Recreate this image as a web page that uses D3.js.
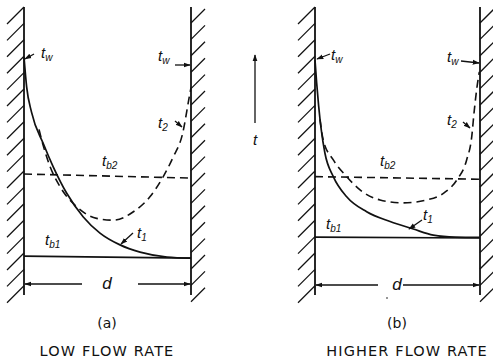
<!DOCTYPE html>
<html><head><meta charset="utf-8">
<script src="https://cdn.jsdelivr.net/npm/d3@7"></script>
<style>html,body{margin:0;padding:0;background:#fff;}svg{display:block;}</style>
</head><body>
<script>
// Data: x = fraction of channel width d (0..1), t = temperature (arbitrary units, 0..100)
const panelIds = ["a", "b"];
const panelCaptions = ["(a)", "(b)"];
const panelTitles = ["LOW FLOW RATE", "HIGHER FLOW RATE"];
// Solid profile t1
const t1A = [[0,82.6],[0.016,72.2],[0.045,63.5],[0.116,52.5],[0.175,44.5],[0.255,35.4],[0.355,27.1],[0.455,21.5],[0.575,17.4],[0.695,14.9],[0.856,13.2],[1,12.8]];
const t1B = [[0,81.6],[0.010,73.7],[0.022,65.7],[0.038,57.3],[0.060,49.3],[0.111,41.1],[0.192,34.1],[0.313,28.9],[0.455,25.5],[0.596,22.9],[0.717,20.8],[0.85,20.1],[1,20.0]];
// Dashed profile t2
const t2A = [[0.09,57.5],[0.116,51.7],[0.156,44.6],[0.216,37.6],[0.315,30.7],[0.435,26.6],[0.535,26.0],[0.655,28.9],[0.754,34.1],[0.834,41.1],[0.894,48.0],[0.950,56.1],[0.990,68.9],[1,72]];
const t2B = [[0.03,61],[0.050,53.8],[0.111,46.9],[0.192,41.1],[0.273,36.5],[0.394,33.0],[0.535,32.0],[0.677,33.0],[0.778,35.3],[0.859,39.9],[0.919,46.9],[0.950,55.0],[0.965,63.9],[0.982,72.3],[0.996,77.5]];
// Bulk temperatures (left end, right end)
const tb1 = [[13.5,12.8],[20.1,19.8]];
const tb2 = [[42.0,40.6],[41.1,40.2]];
const solidCurves = [t1A, t1B];
const dashedCurves = [t2A, t2B];

const W = 493, H = 361;
const svg = d3.select("body").append("svg").attr("width", W).attr("height", H)
  .attr("viewBox", `0 0 ${W} ${H}`);
const ink = "#111";
const defs = svg.append("defs");
defs.append("marker").attr("id","ah").attr("viewBox","0 0 10 10").attr("refX",9).attr("refY",5)
  .attr("markerWidth",7).attr("markerHeight",7).attr("markerUnits","userSpaceOnUse").attr("orient","auto")
  .append("path").attr("d","M0,1.5 L10,5 L0,8.5 Z").attr("fill",ink);

const yScale = d3.scaleLinear().domain([0,100]).range([295,7]);
const xRanges = [[24,191],[315,480]];

// Label layout per panel (pixel anchors)
const labelPos = [
  {twL:[41,58], twLArrow:[[34,54],[25,59]], twR:[158,61], twRArrow:[[175,65],[190,65]],
   t2:[158,128], t2Arrow:[[175,121],[182,127]], tb2L:[102,166], t1:[137,238], t1Arrow:[[133,233],[121,244]],
   tb1L:[45,245], dY:284, dGap:[82,138], cx:107},
  {twL:[331,60], twLArrow:[[330,54],[317,59]], twR:[447,62], twRArrow:[[461,61],[479,63]],
   t2:[447,125], t2Arrow:[[463,122],[470,128]], tb2L:[380,166], t1:[423,220], t1Arrow:[[422,220],[409,229]],
   tb1L:[326,229], dY:285, dGap:[378,403], cx:397}
];

function tLabel(x, y, sub){
  const t = svg.append("text").attr("x",x).attr("y",y)
    .attr("font-family","'Liberation Sans', Arial, sans-serif").attr("font-style","italic")
    .attr("font-size",15).attr("fill",ink);
  t.append("tspan").text("t");
  t.append("tspan").attr("dy",3).attr("font-size",10).text(sub);
}
function arrow(p){
  svg.append("line").attr("x1",p[0][0]).attr("y1",p[0][1]).attr("x2",p[1][0]).attr("y2",p[1][1])
    .attr("stroke",ink).attr("stroke-width",1.3).attr("marker-end","url(#ah)");
}
function hatch(x, top, bottom, dir){
  const step = 16.4;
  for(let y = top; y <= bottom; y += step){
    const l = dir < 0
      ? svg.append("line").attr("x1",x).attr("y1",y).attr("x2",x-17).attr("y2",y+17)
      : svg.append("line").attr("x1",x).attr("y1",y+13).attr("x2",x+14).attr("y2",y-1);
    l.attr("stroke",ink).attr("stroke-width",1.3);
  }
}

panelIds.forEach((id, i) => {
  const x = d3.scaleLinear().domain([0,1]).range(xRanges[i]);
  const line = d3.line().x(d=>x(d[0])).y(d=>yScale(d[1])).curve(d3.curveMonotoneX);
  const L = labelPos[i];

  // walls
  [0,1].forEach(s => {
    svg.append("line").attr("x1",x(s)).attr("x2",x(s)).attr("y1",yScale(100)).attr("y2",yScale(0))
      .attr("stroke",ink).attr("stroke-width",1.8);
  });
  hatch(x(0), yScale(100), yScale(0)-8, -1);
  hatch(x(1), yScale(100)+3, yScale(0)-6, 1);

  // bulk temperature lines
  svg.append("line").attr("x1",x(0)).attr("x2",x(1)).attr("y1",yScale(tb1[i][0])).attr("y2",yScale(tb1[i][1]))
    .attr("stroke",ink).attr("stroke-width",1.6);
  svg.append("line").attr("x1",x(0)).attr("x2",x(1)).attr("y1",yScale(tb2[i][0])).attr("y2",yScale(tb2[i][1]))
    .attr("stroke",ink).attr("stroke-width",1.6).attr("stroke-dasharray","8,5");

  // profiles
  svg.append("path").attr("d",line(solidCurves[i])).attr("fill","none").attr("stroke",ink).attr("stroke-width",1.7);
  svg.append("path").attr("d",line(dashedCurves[i])).attr("fill","none").attr("stroke",ink).attr("stroke-width",1.6)
    .attr("stroke-dasharray","8,5");

  // labels
  tLabel(L.twL[0], L.twL[1], "w"); arrow(L.twLArrow);
  tLabel(L.twR[0], L.twR[1], "w"); arrow(L.twRArrow);
  tLabel(L.t2[0], L.t2[1], "2"); arrow(L.t2Arrow);
  tLabel(L.tb2L[0], L.tb2L[1], "b2");
  tLabel(L.t1[0], L.t1[1], "1"); arrow(L.t1Arrow);
  tLabel(L.tb1L[0], L.tb1L[1], "b1");

  // dimension line d
  arrow([[L.dGap[0], L.dY],[x(0)+1, L.dY]]);
  arrow([[L.dGap[1], L.dY],[x(1)-1, L.dY]]);
  svg.append("text").attr("x",L.cx).attr("y",L.dY+5).attr("text-anchor","middle")
    .attr("font-family","'Liberation Sans', Arial, sans-serif").attr("font-style","italic")
    .attr("font-size",17).attr("fill",ink).text("d");

  svg.append("text").attr("x",L.cx).attr("y",328).attr("text-anchor","middle")
    .attr("font-family","'DejaVu Sans', sans-serif").attr("font-size",14).attr("fill",ink).text(panelCaptions[i]);
});

// stray dot in panel b
svg.append("circle").attr("cx",387).attr("cy",298).attr("r",0.8).attr("fill",ink);

// titles
svg.append("text").attr("x",107).attr("y",356).attr("text-anchor","middle")
  .attr("font-family","'DejaVu Sans', sans-serif").attr("font-size",14.5).attr("letter-spacing",1.1)
  .attr("fill",ink).text(panelTitles[0]);
svg.append("text").attr("x",407).attr("y",356).attr("text-anchor","middle")
  .attr("font-family","'DejaVu Sans', sans-serif").attr("font-size",14.5).attr("letter-spacing",1.1)
  .attr("fill",ink).text(panelTitles[1]);

// central temperature axis arrow
arrow([[255,123],[255,55]]);
svg.append("text").attr("x",255).attr("y",145).attr("text-anchor","middle")
  .attr("font-family","'Liberation Sans', Arial, sans-serif").attr("font-style","italic")
  .attr("font-size",15).attr("fill",ink).text("t");
</script>
</body></html>
